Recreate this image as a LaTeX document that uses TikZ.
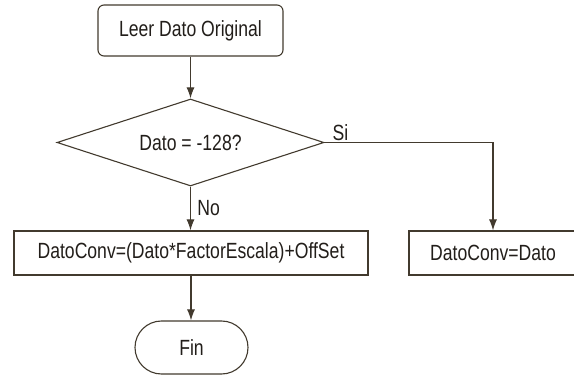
\documentclass[tikz,border=0pt]{standalone}
\usepackage{fontspec}
\setmainfont{Liberation Sans}[FakeStretch=0.8]
\usepackage{xcolor}
\usepackage{tikz}
\usetikzlibrary{shapes.geometric, shapes.misc, arrows.meta}
\definecolor{edgegray}{RGB}{66,58,46}
\definecolor{textgray}{RGB}{34,30,26}
\tikzstyle{arrow}    = [line width=1.1pt,draw=edgegray,-{Latex[length=11pt,width=8pt]}]

\begin{document}
\begin{tikzpicture}[
    x=1pt, y=-1pt,
    every node/.style={font=\fontsize{22}{26}\selectfont, text=textgray},
    block/.style={rectangle, draw=edgegray, line width=1.1pt, inner sep=0pt},
    io/.style={block, rounded corners=6pt},
    decision/.style={diamond, draw=edgegray, line width=1.1pt, inner sep=0pt, aspect=3.07},
    terminal/.style={rounded rectangle, draw=edgegray, line width=1.1pt, inner sep=0pt},
    tlabel/.style={inner sep=1pt},
  ]
  \useasboundingbox (0,0) rectangle (574,377);

  \node[io, minimum width=185pt, minimum height=51pt] (leer) at (190.5,30.5) {Leer Dato Original};
  \node[decision, minimum width=267pt, minimum height=87pt] (dato) at (190.5,142.5) {Dato = -128?};
  \node[block, minimum width=354pt, minimum height=44pt] (conv) at (191,253) {DatoConv=(Dato*FactorEscala)+OffSet};
  \node[block, minimum width=168pt, minimum height=44pt] (igual) at (493,253) {DatoConv=Dato};
  \node[terminal, minimum width=113pt, minimum height=53pt] (fin) at (191.5,347.5) {Fin};

  \draw[arrow] (leer.south) -- (dato.north);
  \draw[arrow] (dato.south) -- node[right, xshift=3pt] {No} (dato.south |- conv.north);
  \draw[arrow] (dato.east) -| node[pos=0.047, anchor=south, tlabel] {Si} (igual.north);
  \draw[arrow] (conv.south) -- (conv.south |- fin.north);
  \end{tikzpicture}
\end{document}
